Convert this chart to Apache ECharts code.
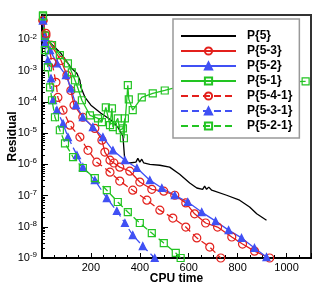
<!DOCTYPE html>
<html><head><meta charset="utf-8">
<script src="https://cdn.jsdelivr.net/npm/echarts@6/dist/echarts.min.js"></script>
<style>html,body{margin:0;padding:0;background:#fff}#c{width:327px;height:291px}</style>
</head><body><div id="c"></div>
<script>
// ---- data (CPU time, residual) ----
const names = ['P{5}', 'P{5-3}', 'P{5-2}', 'P{5-1}', 'P{5-4-1}', 'P{5-3-1}', 'P{5-2-1}'];
const p5 = [[4,4.7e-2],[8,1.07e-2],[24,9.2e-3],[78,3.5e-3],[118,1.26e-3],[143,8.1e-4],[155,4.9e-4],[159,2.9e-4],[176,1.38e-4],[200,7.8e-5],[241,4.3e-5],[282,2.6e-5],[310,1.55e-5],[331,7.9e-6],[339,1.17e-6],[359,1.1e-6],[384,1.17e-6],[392,1.55e-6],[400,1.17e-6],[408,1.45e-6],[416,1.1e-6],[441,1.0e-6],[482,9.3e-7],[522,8.1e-7],[563,4.8e-7],[604,2.5e-7],[633,1.74e-7],[657,1.58e-7],[665,2.0e-7],[673,1.58e-7],[682,1.86e-7],[694,1.48e-7],[755,1.02e-7],[808,7.1e-8],[849,4.3e-8],[878,2.6e-8],[918,1.62e-8]];
const p53 = [[4,4.0e-2],[16,1.32e-2],[37,6.5e-3],[78,2.1e-3],[102,7.1e-4],[118,2.3e-4],[131,7.8e-5],[167,3.2e-5],[216,1.41e-5],[245,5.9e-6],[257,2.45e-6],[278,1.35e-6],[294,1.1e-6],[318,8.1e-7],[359,6.0e-7],[400,2.7e-7],[449,1.58e-7],[498,1.38e-7],[543,1.02e-7],[588,5.8e-8],[624,2.6e-8],[669,1.32e-8],[718,9.8e-9],[776,4.7e-9],[820,2.8e-9],[869,1.66e-9],[931,1.0e-9]];
const p52 = [[4,4.0e-2],[12,1.15e-2],[33,4.5e-3],[61,1.7e-3],[98,7.1e-4],[118,2.7e-4],[139,7.8e-5],[167,3.2e-5],[208,1.55e-5],[249,7.4e-6],[290,2.8e-6],[339,1.35e-6],[388,7.6e-7],[441,3.1e-7],[490,1.74e-7],[543,1.02e-7],[596,6.2e-8],[653,2.95e-8],[710,1.51e-8],[763,7.8e-9],[816,4.4e-9],[869,2.1e-9],[918,1.07e-9]];
const p51 = [[4,5.8e-2],[12,1.32e-2],[41,6.5e-3],[73,3.1e-3],[106,1.7e-3],[122,8.7e-4],[135,4.9e-4],[147,2.7e-4],[163,1.12e-4],[196,3.7e-5],[229,2.95e-5],[245,2.24e-5],[261,6.6e-5],[278,1.78e-5],[286,6.2e-5],[290,1.55e-5],[310,2.95e-5],[318,1.23e-5],[331,1.41e-5],[339,2.95e-5],[335,6.8e-6],[351,3.4e-4],[355,1.2e-4],[371,5.4e-5],[408,1.38e-4],[453,1.86e-4],[502,2.3e-4],[584,3.4e-4],[767,3.9e-4],[931,4.2e-4],[1078,4.5e-4]];
const p541 = [[4,4.0e-2],[16,1.55e-2],[41,1.82e-3],[57,4.2e-4],[65,1.38e-4],[86,5.4e-5],[114,1.78e-5],[155,7.4e-6],[188,2.8e-6],[224,1.17e-6],[278,5.6e-7],[318,2.9e-7],[371,1.48e-7],[429,7.1e-8],[482,3.4e-8],[535,1.9e-8],[588,9.8e-9],[633,4.4e-9],[686,2.24e-9],[731,1.0e-9]];
const p531 = [[4,4.0e-2],[12,7.4e-3],[24,2.1e-3],[37,5.6e-4],[45,1.12e-4],[61,5.4e-5],[86,2.0e-5],[106,7.4e-6],[143,1.95e-6],[167,8.1e-7],[216,3.1e-7],[265,8.3e-8],[306,3.2e-8],[339,1.32e-8],[371,5.4e-9],[412,2.4e-9],[461,1.0e-9]];
const p521 = [[4,5.4e-2],[12,4.5e-3],[24,1.26e-3],[33,2.9e-4],[41,1.12e-4],[53,3.2e-5],[73,1.23e-5],[94,4.7e-6],[127,1.7e-6],[167,7.6e-7],[216,3.6e-7],[265,1.48e-7],[310,6.2e-8],[351,2.95e-8],[400,1.32e-8],[449,6.3e-9],[498,3.0e-9],[547,1.45e-9],[567,1.0e-9]];
const xTickLabels = [200, 400, 600, 800, 1000];
const yExponents = [-9, -8, -7, -6, -5, -4, -3, -2];
const minorMultipliers = [2, 3, 4, 5, 6, 7, 8, 9];

// log-spaced minor tick positions for the y axis (axis decoration only)
const yMinorTicks = [];
[-9, -8, -7, -6, -5, -4, -3, -2].forEach(e => minorMultipliers.forEach(m => {
  const v = m * Math.pow(10, e);
  if (v < 0.06) yMinorTicks.push(v);
}));

const FONT = 'Liberation Sans';
const BLACK = '#000', RED = '#e3201c', BLUE = '#4050f4', GREEN = '#22c422';
function mk(name, data, color, dashed, symbol, size, filled) {
  return {
    name, type: 'line', data, symbol, symbolSize: size,
    showSymbol: symbol !== 'none', showAllSymbol: true,
    lineStyle: { color, width: 1.3, type: dashed ? [7, 4] : 'solid' },
    itemStyle: { color: filled ? color : 'rgba(255,255,255,0)', borderColor: color, borderWidth: 1.2 },
    emphasis: { disabled: true }, silent: true
  };
}
const yBase = {
  type: 'log', logBase: 10, min: 1e-9, max: 0.06, splitNumber: 10,
  splitLine: { show: false }, minorSplitLine: { show: false }
};
const chart = echarts.init(document.getElementById('c'));
chart.setOption({
  animation: false,
  backgroundColor: '#fff',
  grid: { left: 42, right: 16, top: 15, bottom: 33, outerBoundsMode: 'none', containLabel: false,
          show: true, borderColor: '#333', borderWidth: 2, backgroundColor: 'transparent' },
  xAxis: {
    type: 'value', min: 0, max: 1100, interval: 200,
    name: 'CPU time', nameLocation: 'middle', nameGap: 15, nameMoveOverlap: false,
    nameTextStyle: { fontFamily: FONT, fontSize: 12, fontWeight: 'bold', color: '#000' },
    axisLine: { show: true, lineStyle: { color: '#000', width: 2 } },
    axisTick: { show: true, inside: true, length: 5, lineStyle: { color: '#000', width: 1 } },
    minorTick: { show: true, splitNumber: 4, length: 3, lineStyle: { color: '#000', width: 1 } },
    splitLine: { show: false }, minorSplitLine: { show: false },
    axisLabel: {
      margin: 4, fontFamily: FONT, fontSize: 11, color: '#000',
      formatter: v => xTickLabels.indexOf(v) >= 0 ? String(v) : ''
    }
  },
  yAxis: [Object.assign({}, yBase, {
    name: 'Residual', nameLocation: 'middle', nameGap: 23, nameRotate: 90, nameMoveOverlap: false,
    nameTextStyle: { fontFamily: FONT, fontSize: 12, fontWeight: 'bold', color: '#000' },
    axisLine: { show: true, lineStyle: { color: '#000', width: 2 } },
    axisTick: { show: true, inside: true, length: 6, lineStyle: { color: '#000', width: 1 } },
    minorTick: { show: false },
    axisLabel: {
      margin: 5,
      formatter: v => {
        const e = Math.round(Math.log10(v));
        if (Math.abs(Math.log10(v) - e) > 0.01 || yExponents.indexOf(e) < 0) return '';
        return '{b|10}{s|' + e + '}';
      },
      rich: {
        b: { fontFamily: FONT, fontSize: 11, color: '#000', lineHeight: 14 },
        s: { fontFamily: FONT, fontSize: 8, color: '#000', lineHeight: 8, verticalAlign: 'top' }
      }
    }
  }), Object.assign({}, yBase, {
    position: 'left', show: true,
    axisLine: { show: false },
    axisLabel: { show: false },
    axisTick: { show: true, inside: true, length: 3, customValues: yMinorTicks, lineStyle: { color: '#000', width: 1 } },
    minorTick: { show: false }
  })],
  legend: {
    data: names.map((n, i) => i === 0 ? { name: n, itemStyle: { opacity: 0 } } : n),
    orient: 'vertical', left: 173, top: 19,
    padding: [10, 7, 5, 7], itemGap: 1, itemWidth: 55, itemHeight: 9,
    backgroundColor: '#fff', borderColor: '#999', borderWidth: 1.5, borderRadius: 0,
    textStyle: { fontFamily: FONT, fontSize: 12, fontWeight: 'bold', color: '#000', padding: [0, 0, 0, 6], lineHeight: 14 },
    selectedMode: false
  },
  series: [
    mk(names[0], p5, BLACK, false, 'none', 0, false),
    mk(names[1], p53, RED, false, 'circle', 8, false),
    mk(names[2], p52, BLUE, false, 'triangle', 7, true),
    mk(names[3], p51, GREEN, false, 'rect', 7, false),
    mk(names[4], p541, RED, true, 'circle', 8, false),
    mk(names[5], p531, BLUE, true, 'triangle', 7, true),
    mk(names[6], p521, GREEN, true, 'rect', 7, false)
  ]
});
</script></body></html>
